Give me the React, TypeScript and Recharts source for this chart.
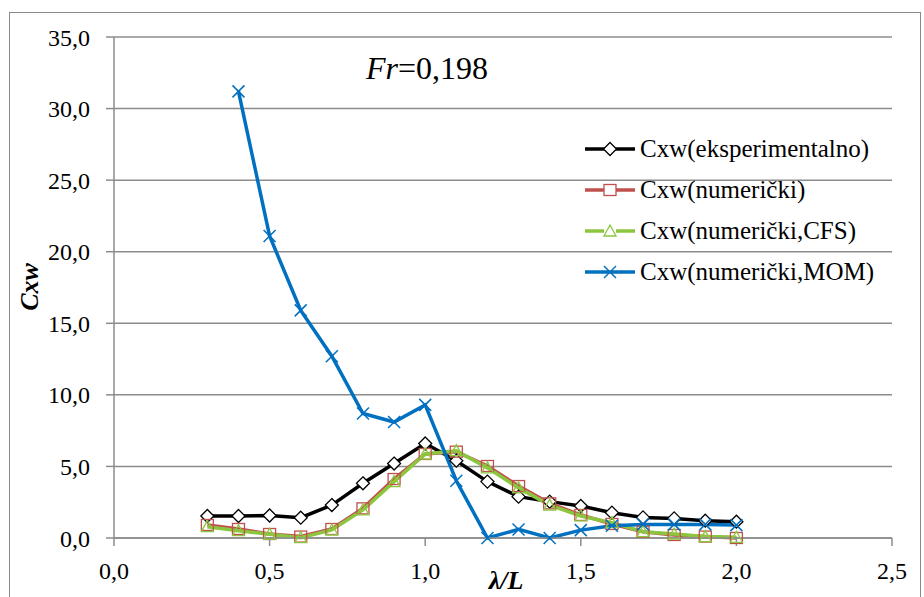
import React from 'react';
import { LineChart, Line, XAxis, YAxis, CartesianGrid } from 'recharts';

const lambdaL = [0.3, 0.4, 0.5, 0.6, 0.7, 0.8, 0.9, 1.0, 1.1, 1.2, 1.3, 1.4, 1.5, 1.6, 1.7, 1.8, 1.9, 2.0];
const cxwExp = [1.54, 1.54, 1.57, 1.42, 2.3, 3.82, 5.2, 6.6, 5.4, 3.94, 2.89, 2.54, 2.24, 1.77, 1.44, 1.37, 1.21, 1.14];
const cxwNum = [0.91, 0.63, 0.28, 0.1, 0.63, 2.07, 4.12, 5.87, 6.03, 5.03, 3.63, 2.42, 1.61, 0.98, 0.44, 0.21, 0.1, 0.0];
const cxwCfs = [0.79, 0.51, 0.26, 0.02, 0.56, 1.96, 3.94, 5.87, 6.1, 4.9, 3.5, 2.3, 1.54, 1.07, 0.44, 0.28, 0.1, 0.05];
const cxwMom = [null, 31.2, 21.1, 15.9, 12.7, 8.7, 8.1, 9.3, 4.0, 0.0, 0.6, 0.0, 0.55, 0.85, 0.95, 0.95, 0.95, 0.9];

const xTicks = [0, 0.5, 1.0, 1.5, 2.0, 2.5];
const yTicks = [0, 5, 10, 15, 20, 25, 30, 35];

const data = lambdaL.map((x, i) => ({
  x,
  exp: cxwExp[i],
  num: cxwNum[i],
  cfs: cxwCfs[i],
  mom: cxwMom[i],
}));

const series = [
  { key: 'exp', name: 'Cxw(eksperimentalno)', color: '#000000', marker: 'diamond' },
  { key: 'num', name: 'Cxw(numerički)', color: '#C0504D', marker: 'square' },
  { key: 'cfs', name: 'Cxw(numerički,CFS)', color: '#8CC63F', marker: 'triangle' },
  { key: 'mom', name: 'Cxw(numerički,MOM)', color: '#0070C0', marker: 'cross' },
];

const fmt = (v: number) => v.toFixed(1).replace('.', ',');
const FONT = 'Liberation Serif, serif';

const Marker = ({ cx, cy, type, color }: any) => {
  if (cx == null || cy == null) return null;
  if (type === 'diamond')
    return <polygon points={`${cx},${cy - 6.5} ${cx + 6.5},${cy} ${cx},${cy + 6.5} ${cx - 6.5},${cy}`} fill="#fff" stroke={color} strokeWidth={1.3} />;
  if (type === 'square')
    return <rect x={cx - 6} y={cy - 5.5} width={12} height={11} fill="none" stroke={color} strokeWidth={1.3} />;
  if (type === 'triangle')
    return <polygon points={`${cx},${cy - 6} ${cx + 6},${cy + 5} ${cx - 6},${cy + 5}`} fill="none" stroke={color} strokeWidth={1.3} />;
  return (
    <g stroke={color} strokeWidth={1.5}>
      <line x1={cx - 6} y1={cy - 6} x2={cx + 6} y2={cy + 6} />
      <line x1={cx - 6} y1={cy + 6} x2={cx + 6} y2={cy - 6} />
    </g>
  );
};

const ChartLegend = () => (
  <div style={{ position: 'absolute', left: 584, top: 128, fontSize: 25, lineHeight: '41px', fontFamily: FONT }}>
    {series.map((s) => (
      <div key={s.key} style={{ display: 'flex', alignItems: 'center', whiteSpace: 'nowrap' }}>
        <svg width={54} height={20} style={{ marginRight: 2 }}>
          <line x1={1} y1={10} x2={51} y2={10} stroke={s.color} strokeWidth={3.5} />
          {s.marker === 'square' || s.marker === 'triangle' ? (
            <rect x={20} y={4} width={12} height={12} fill="#fff" stroke="none" />
          ) : null}
          <Marker cx={26} cy={10} type={s.marker} color={s.color} />
        </svg>
        <span>{s.name}</span>
      </div>
    ))}
  </div>
);

export default function App() {
  return (
    <div style={{ position: 'absolute', left: 0, top: 0, width: 924, height: 597, background: '#fff', overflow: 'hidden', fontFamily: FONT }}>
      <div style={{ position: 'absolute', left: 9, top: 12, width: 912, height: 600, border: '1.5px solid #8a8a8a', boxSizing: 'border-box' }} />
      <LineChart width={924} height={597} data={data} margin={{ top: 37, right: 32, bottom: 29, left: 34 }}>
        <CartesianGrid horizontal vertical={false} stroke="#8c8c8c" strokeWidth={1.5} />
        <XAxis
          type="number"
          dataKey="x"
          domain={[0, 2.5]}
          ticks={xTicks}
          tickFormatter={fmt}
          stroke="#8c8c8c"
          strokeWidth={1.5}
          tickSize={8}
          tickMargin={16}
          height={30}
          tick={{ fill: '#000', fontFamily: FONT, fontSize: 24 }}
        />
        <YAxis
          type="number"
          domain={[0, 35]}
          ticks={yTicks}
          tickFormatter={fmt}
          stroke="#8c8c8c"
          strokeWidth={1.5}
          tickSize={8}
          tickMargin={16}
          width={80}
          interval={0}
          tick={{ fill: '#000', fontFamily: FONT, fontSize: 24 }}
        />
        {series.map((s) => (
          <Line
            key={s.key}
            dataKey={s.key}
            name={s.name}
            stroke={s.color}
            strokeWidth={3.5}
            isAnimationActive={false}
            dot={(p: any) => <Marker key={`${s.key}-${p.index}`} cx={p.cx} cy={p.cy} type={s.marker} color={s.color} />}
            activeDot={false}
          />
        ))}
      </LineChart>
      <ChartLegend />
      <div style={{ position: 'absolute', left: 366, top: 50, fontSize: 32, whiteSpace: 'nowrap' }}>
        <i>Fr</i>=0,198
      </div>
      <div
        style={{
          position: 'absolute',
          left: 30,
          top: 287,
          transform: 'translate(-50%, -50%) rotate(-90deg)',
          fontSize: 26,
          fontWeight: 'bold',
          fontStyle: 'italic',
        }}
      >
        Cxw
      </div>
      <div
        style={{
          position: 'absolute',
          left: 506,
          top: 581,
          transform: 'translate(-50%, -50%)',
          fontSize: 26,
          fontWeight: 'bold',
          fontStyle: 'italic',
        }}
      >
        λ/L
      </div>
    </div>
  );
}
